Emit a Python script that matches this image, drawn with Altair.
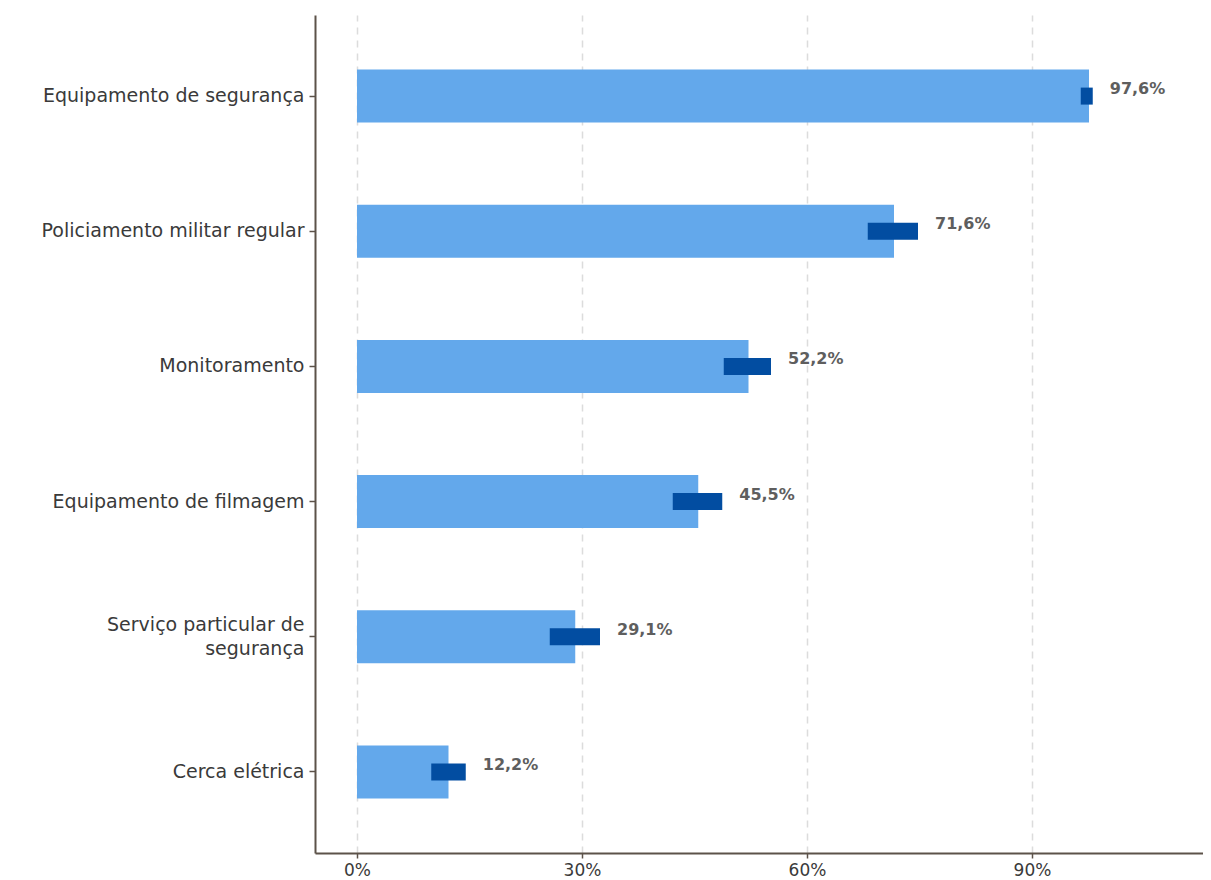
import altair as alt
import pandas as pd

categories = [
    "Equipamento de segurança",
    "Policiamento militar regular",
    "Monitoramento",
    "Equipamento de filmagem",
    "Serviço particular de\nsegurança",
    "Cerca elétrica",
]
values = [97.6, 71.6, 52.2, 45.5, 29.1, 12.2]
ci_low = [96.5, 68.1, 48.9, 42.1, 25.7, 9.9]
ci_high = [98.1, 74.8, 55.2, 48.7, 32.4, 14.5]
labels = ["97,6%", "71,6%", "52,2%", "45,5%", "29,1%", "12,2%"]
x_ticks = [0, 30, 60, 90]

df = pd.DataFrame({"cat": categories, "value": values, "lo": ci_low, "hi": ci_high, "label": labels})

FONT = "DejaVu Sans"
AXIS_COLOR = "#5C5249"

y_enc = alt.Y(
    "cat:N",
    sort=categories,
    scale=alt.Scale(paddingInner=0, paddingOuter=0.1),
    axis=alt.Axis(
        title=None,
        labelExpr="split(datum.label, '\\n')",
        labelFontSize=19,
        labelColor="#3A3A3A",
        labelFont=FONT,
        labelPadding=5,
        labelLimit=400,
        labelOffset=alt.condition("indexof(datum.value, 'Servi') == 0", alt.value(-12), alt.value(0)),
        tickSize=6,
        tickColor=AXIS_COLOR,
        tickWidth=1.5,
        domainColor=AXIS_COLOR,
        domainWidth=2,
        grid=False,
        minExtent=307,
        maxExtent=307,
        labelLineHeight=24,
    ),
)

x_scale = alt.Scale(domain=[-5.6, 112.8], nice=False, zero=False)
x_axis = alt.Axis(
    title=None,
    values=x_ticks,
    labelExpr="datum.value + '%'",
    labelFontSize=17,
    labelColor="#3A3A3A",
    labelFont=FONT,
    labelPadding=4,
    tickSize=5,
    tickColor=AXIS_COLOR,
    tickWidth=1.5,
    domainColor=AXIS_COLOR,
    domainWidth=2,
    grid=True,
    gridDash=[7, 6],
    gridColor="#DCDCDC",
    gridWidth=1.5,
)

base = alt.Chart(df).encode(y=y_enc)

bars = base.mark_bar(size=53, color="#63A8EB").encode(
    x=alt.X("value:Q", scale=x_scale, axis=x_axis)
)
ci = base.mark_bar(size=17, color="#024DA1").encode(
    x=alt.X("lo:Q", scale=x_scale), x2="hi:Q"
)
text = base.mark_text(
    align="left", baseline="middle", dx=17, dy=-7,
    fontWeight="bold", fontSize=16, color="#5E5E5E", font=FONT,
).encode(x=alt.X("hi:Q", scale=x_scale), text="label:N")

chart = (
    alt.layer(bars, ci, text)
    .properties(width=888, height=838, padding={"left": 0, "top": 7, "right": 0, "bottom": 5})
    .configure_view(stroke=None)
)

chart.save("out.html", embed_options={"renderer": "svg", "actions": False})
